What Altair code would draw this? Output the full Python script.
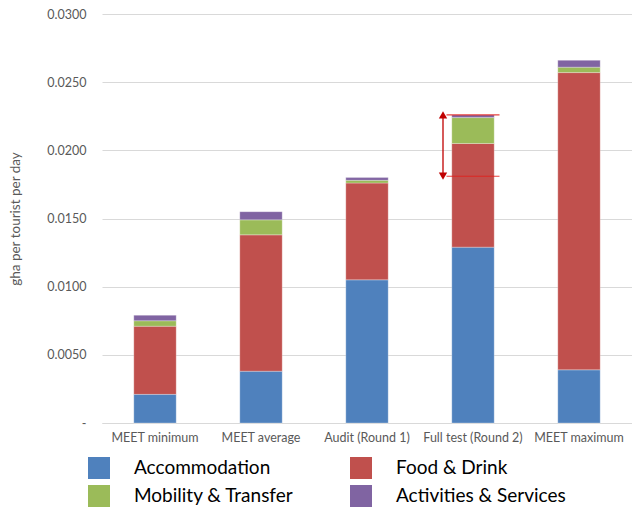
import altair as alt
import pandas as pd

categories = ["MEET minimum", "MEET average", "Audit (Round 1)", "Full test (Round 2)", "MEET maximum"]
series = ["Accommodation", "Food & Drink", "Mobility & Transfer", "Activities & Services"]
colors = ["#4F81BD", "#C0504D", "#9BBB59", "#8064A2"]
accommodation = [0.0021, 0.0038, 0.0105, 0.0129, 0.0039]
food_drink = [0.0050, 0.0100, 0.0071, 0.0076, 0.0218]
mobility = [0.0004, 0.0011, 0.0002, 0.0019, 0.0004]
activities = [0.0004, 0.0006, 0.0002, 0.0002, 0.0005]
y_ticks = [0.0, 0.005, 0.01, 0.015, 0.02, 0.025, 0.03]

# legend is laid out column by column: Accommodation / Mobility, then Food / Activities
legend_order = ["Accommodation", "Mobility & Transfer", "Food & Drink", "Activities & Services"]
legend_colors = [colors[series.index(s)] for s in legend_order]

# annotation on Full test bar: top of bar and Audit total
annot_cat = "Full test (Round 2)"
annot_top = 0.0226
annot_bottom = 0.0181

rows = []
for s_i, (s, vals) in enumerate(zip(series, [accommodation, food_drink, mobility, activities])):
    for c, v in zip(categories, vals):
        rows.append({"category": c, "series": s, "value": v, "order": s_i})
df = pd.DataFrame(rows)

font = "Lato"
xenc = alt.X("category:N", sort=categories, title=None,
             scale=alt.Scale(paddingInner=0.6, paddingOuter=0.3),
             axis=alt.Axis(labelAngle=0, ticks=False, domainColor="#D9D9D9",
                           labelColor="#595959", labelFontSize=12.5, labelPadding=8,
                           labelFont=font))

bars = alt.Chart(df).mark_bar(stroke="#FFFFFF", strokeOpacity=0.35, strokeWidth=0.8).encode(
    x=xenc,
    y=alt.Y("value:Q", stack="zero", title="gha per tourist per day",
            scale=alt.Scale(domain=[0, 0.03]),
            axis=alt.Axis(values=y_ticks, labelExpr="datum.value == 0 ? '-' : format(datum.value, '.4f')",
                          ticks=False, domain=False, gridColor="#D9D9D9", labelColor="#595959",
                          labelFontSize=12.5, labelPadding=16, titleColor="#595959",
                          titleFontSize=13.5, titleFontWeight="normal", titlePadding=24,
                          labelFont=font, titleFont=font)),
    color=alt.Color("series:N",
                    scale=alt.Scale(domain=legend_order, range=legend_colors),
                    legend=alt.Legend(title=None, orient="none", legendX=-14, legendY=443,
                                      columns=2, symbolType="square", symbolSize=484,
                                      symbolStrokeWidth=0, labelFontSize=19, labelFont=font,
                                      labelColor="#000000", labelOffset=24, columnPadding=56,
                                      rowPadding=6, labelLimit=400)),
    order=alt.Order("order:Q"),
)

annot_df = pd.DataFrame({"category": [annot_cat, annot_cat], "value": [annot_top, annot_bottom],
                         "shape": ["triangle-up", "triangle-down"]})
seg_df = pd.DataFrame({"category": [annot_cat], "top": [annot_top], "bottom": [annot_bottom]})

lines = alt.Chart(annot_df).mark_tick(color="#E0201B", thickness=1.2, size=53, opacity=0.85).encode(
    x=alt.X("category:N", sort=categories), y="value:Q")
arrow_line = alt.Chart(seg_df).mark_rule(color="#C00000", strokeWidth=1.3, xOffset=-30).encode(
    x=alt.X("category:N", sort=categories), y="top:Q", y2="bottom:Q")
heads = alt.Chart(annot_df).mark_point(filled=True, color="#C00000", opacity=1, size=70, xOffset=-30).encode(
    x=alt.X("category:N", sort=categories),
    y=alt.Y("value:Q"),
    shape=alt.Shape("shape:N", scale=None, legend=None))

chart = alt.layer(bars, lines, arrow_line, heads).properties(
    width=530, height=409,
    padding={"left": 102, "top": 14, "right": 0, "bottom": 85},
    autosize=alt.AutoSizeParams(type="none"),
    background="#FFFFFF",
).configure_view(stroke=None)

chart.save("out.html", embed_options={"renderer": "svg", "actions": False})
